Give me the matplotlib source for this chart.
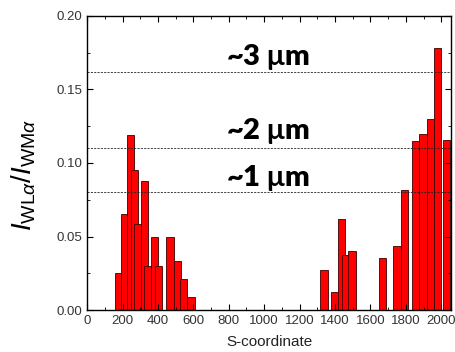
import matplotlib
matplotlib.use("Agg")
import matplotlib.pyplot as plt
from matplotlib.ticker import MultipleLocator

# bar centres along S and intensity ratio
s_pos = [175, 213, 247, 267, 285, 323, 342, 383, 404, 468, 508, 547, 587,
         1338, 1397, 1438, 1460, 1496, 1668, 1750, 1791,
         1857, 1897, 1939, 1980, 2030]
ratio = [0.025, 0.065, 0.119, 0.0955, 0.0586, 0.0875, 0.030, 0.0495, 0.030,
         0.050, 0.0336, 0.021, 0.009,
         0.027, 0.012, 0.062, 0.0375, 0.040, 0.0354, 0.0434, 0.0813,
         0.115, 0.120, 0.130, 0.178, 0.1155]

# thickness reference levels
levels = [0.080, 0.110, 0.162]
level_labels = [r"~1 $\mathbf{\mu}$m", r"~2 $\mathbf{\mu}$m", r"~3 $\mathbf{\mu}$m"]
label_y = [0.090, 0.122, 0.172]

plt.rcParams["font.family"] = ["Liberation Sans", "DejaVu Sans"]
plt.rcParams["mathtext.fontset"] = "custom"
plt.rcParams["mathtext.rm"] = "Liberation Sans"
plt.rcParams["mathtext.it"] = "Liberation Sans:italic"
plt.rcParams["mathtext.bf"] = "Lato:bold"

fig = plt.figure(figsize=(4.56, 3.52), dpi=100)
ax = fig.add_axes([0.191, 0.119, 0.798, 0.836])

ax.bar(s_pos, ratio, width=40, color="#ff0000", edgecolor="#3a0000", linewidth=0.6)

for lv, txt, ty in zip(levels, level_labels, label_y):
    ax.axhline(lv, color="#222222", linestyle=(0, (2.5, 1.5)), linewidth=0.6)
    ax.text(1020, ty, txt, ha="center", va="center", fontsize=21,
            fontweight="heavy", family="Lato")

ax.set_xlim(0, 2055)
ax.set_ylim(0, 0.20)
ax.xaxis.set_major_locator(MultipleLocator(200))
ax.xaxis.set_minor_locator(MultipleLocator(100))
ax.yaxis.set_major_locator(MultipleLocator(0.05))
ax.yaxis.set_minor_locator(MultipleLocator(0.025))
ax.yaxis.set_major_formatter(matplotlib.ticker.FormatStrFormatter("%.2f"))
ax.tick_params(which="both", direction="in", top=True, right=True,
               labelsize=9.5, labelcolor="#333333")
ax.tick_params(which="major", length=4)
ax.tick_params(which="minor", length=2.5)
for sp in ax.spines.values():
    sp.set_linewidth(1.0)

ax.set_xlabel("S-coordinate", fontsize=11, labelpad=6, color="#222222")
ax.set_ylabel(r"$I_{\mathrm{WL}\alpha}/I_{\mathrm{WM}\alpha}$", fontsize=20)
ax.yaxis.set_label_coords(-0.135, 0.46)

fig.savefig("out.png", dpi=100)
